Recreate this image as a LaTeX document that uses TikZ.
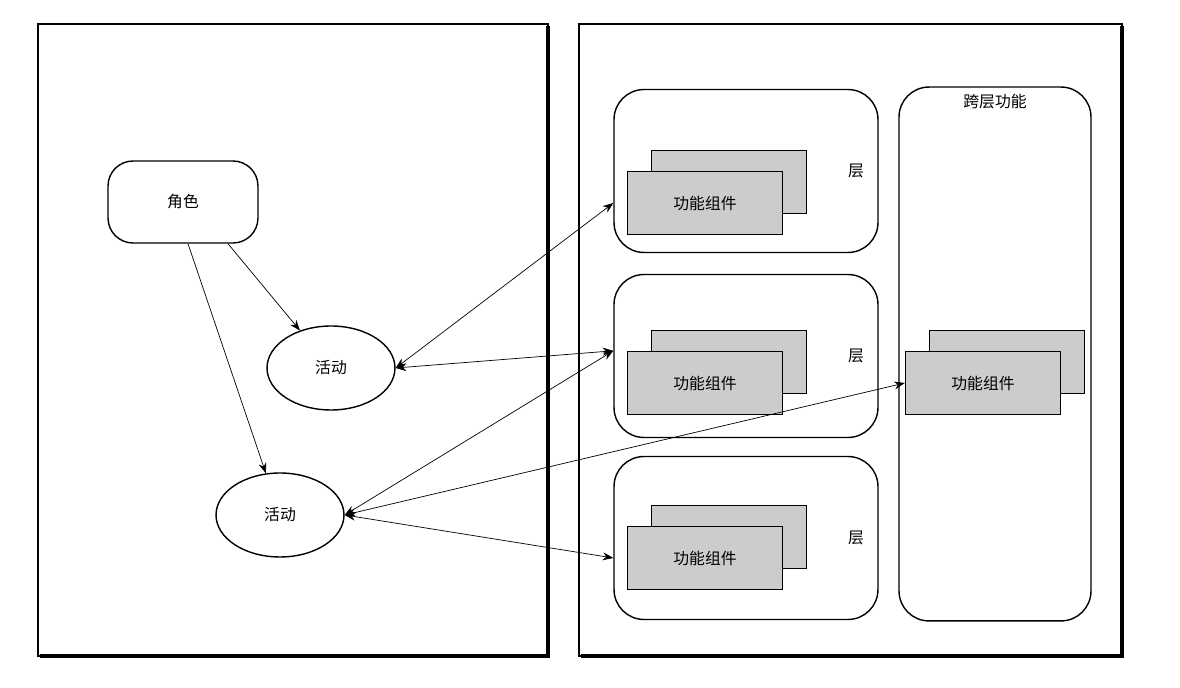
\documentclass[tikz,border=0pt]{standalone}
\usepackage{fontspec}
\setmainfont{Noto Sans CJK SC}
\usetikzlibrary{shapes.geometric,arrows.meta}
\tikzset{
  panel/.style={draw,line width=0.9pt},
  layer/.style={draw,rounded corners=0.6cm,line width=0.8pt},
  comp/.style={draw,fill=gray!40,line width=0.8pt,minimum width=3.1cm,minimum height=1.26cm,font=\small},
  act/.style={draw,ellipse,line width=0.8pt,minimum width=2.56cm,minimum height=1.68cm,font=\small},
  link/.style={{Stealth[length=6pt]}-{Stealth[length=6pt]},thin},
  dep/.style={-{Stealth[length=6pt]},thin}
}
\begin{document}
\begin{tikzpicture}[x=0.02cm,y=-0.02cm]
  \useasboundingbox (0,0) rectangle (1180,688);
  % two panels
  \draw[panel] (38,24) rectangle (548,656);
  \draw[line width=2pt] (548,26) -- (548,656) -- (40,656);
  \draw[panel] (579,24) rectangle (1122,656);
  \draw[line width=2pt] (1122,26) -- (1122,656) -- (581,656);

  % left side
  \node[draw,rounded corners=0.5cm,line width=0.8pt,minimum width=3cm,minimum height=1.64cm,font=\small] (role) at (183,202) {角色};
  \node[act] (act1) at (331,368) {活动};
  \node[act] (act2) at (280,515) {活动};

  % layers
  \foreach \n/\y/\c in {1/171/203,2/356/383,3/538/558}{
    \node[layer,minimum width=5.28cm,minimum height=3.26cm] (layer\n) at (746,\y) {};
    \node[comp] (back\n) at (729,\c-21) {};
    \node[comp] (comp\n) at (705,\c) {功能组件};
    \node[font=\small] at (856,\y) {层};
  }
  \node[layer,minimum width=3.84cm,minimum height=10.68cm] (cross) at (995,354) {};
  \node[font=\small,below=1pt] at (cross.north) {跨层功能};
  \node[comp] (crossback) at (1007,362) {};
  \node[comp] (crosscomp) at (983,383) {功能组件};

  % connectors
  \draw[dep] ([xshift=0.9cm]role.south) -- (act1);
  \draw[dep] ([xshift=0.1cm]role.south) -- (act2);
  \draw[link] (act1.east) -- (layer1.west |- comp1.west);
  \draw[link] (act1.east) -- (layer2.west |- comp2.north west);
  \draw[link] (act2.east) -- (layer2.west |- comp2.north west);
  \draw[link] (act2.east) -- (crosscomp.west);
  \draw[link] (act2.east) -- (layer3.west |- comp3.west);
\end{tikzpicture}
\end{document}
